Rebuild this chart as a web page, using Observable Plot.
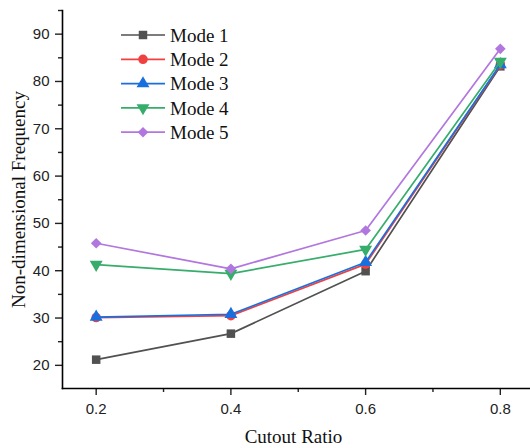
<!DOCTYPE html>
<html>
<head>
<meta charset="utf-8">
<script src="https://cdn.jsdelivr.net/npm/d3@7"></script>
<script src="https://cdn.jsdelivr.net/npm/@observablehq/plot@0.6"></script>
<style>
  html, body { margin: 0; padding: 0; background: #fff; }
  #wrap { position: relative; width: 530px; height: 448px; }
  #legend { position: absolute; left: 0; top: 0; pointer-events: none; }
</style>
</head>
<body>
<div id="wrap"></div>
<script>
// ---- data ----
const ratios = [0.2, 0.4, 0.6, 0.8];
const modeNames = ["Mode 1", "Mode 2", "Mode 3", "Mode 4", "Mode 5"];
const mode1 = [21.2, 26.7, 39.9, 83.2];
const mode2 = [30.1, 30.5, 41.4, 83.5];
const mode3 = [30.2, 30.8, 41.8, 83.6];
const mode4 = [41.3, 39.4, 44.5, 84.2];
const mode5 = [45.8, 40.4, 48.5, 86.9];
const xMinorTicks = [0.3, 0.5, 0.7];
const yMajorTicks = [20, 30, 40, 50, 60, 70, 80, 90];
const yMinorTicks = [25, 35, 45, 55, 65, 75, 85, 95];

// ---- styles ----
const colors = ["#515151", "#F14040", "#1A6FDF", "#37AD6B", "#B177DE"];
const sqrt3 = Math.sqrt(3);
const triangleDown = {
  draw(context, size) {
    const y = Math.sqrt(size / (sqrt3 * 3));
    context.moveTo(0, y * 2);
    context.lineTo(-sqrt3 * y, -y);
    context.lineTo(sqrt3 * y, -y);
    context.closePath();
  }
};
const symbols = [d3.symbolSquare, d3.symbolCircle, d3.symbolTriangle, triangleDown, d3.symbolDiamond2];

const series = [mode1, mode2, mode3, mode4, mode5].map((vals, i) =>
  ratios.map((r, j) => ({ mode: modeNames[i], ratio: r, value: vals[j] }))
);

const serif = "'Liberation Serif', 'Times New Roman', serif";

const marks = [
  Plot.axisX({ ticks: ratios, tickSize: 7, tickPadding: 8, tickFormat: d3.format(".1f"), label: null, strokeWidth: 1.4 }),
  Plot.axisX({ ticks: xMinorTicks, tickSize: 4, text: null, label: null, strokeWidth: 1.4 }),
  Plot.axisY({ ticks: yMajorTicks, tickSize: 7, tickPadding: 6, label: null, strokeWidth: 1.4 }),
  Plot.axisY({ ticks: yMinorTicks, tickSize: 4, text: null, label: null, strokeWidth: 1.4 }),
  Plot.frame({ anchor: "left", stroke: "#000", strokeWidth: 1.6 }),
  Plot.frame({ anchor: "bottom", stroke: "#000", strokeWidth: 1.6 }),
  Plot.text(["Cutout Ratio"], { frameAnchor: "bottom", dy: 48.5, dx: -3, textAnchor: "middle", lineAnchor: "middle", fontFamily: serif, fontSize: 19, fill: "#111" }),
  Plot.text(["Non-dimensional Frequency"], { frameAnchor: "left", rotate: -90, dx: -44, textAnchor: "middle", lineAnchor: "middle", fontFamily: serif, fontSize: 19, fill: "#111" })
];
series.forEach((rows, i) => {
  marks.push(Plot.line(rows, { x: "ratio", y: "value", stroke: colors[i], strokeWidth: 1.7 }));
  marks.push(Plot.dot(rows, { x: "ratio", y: "value", fill: colors[i], stroke: "none", symbol: symbols[i], r: 4.8 }));
});

const chart = Plot.plot({
  width: 530,
  height: 448,
  marginLeft: 62,
  marginRight: 0,
  marginTop: 10,
  marginBottom: 60,
  x: { domain: [0.15, 0.85], range: [62, 533.5] },
  y: { domain: [15, 95], range: [388.5, 10] },
  style: { fontFamily: "'Liberation Sans', Arial, sans-serif", fontSize: "15px", color: "#222", overflow: "hidden", background: "#fff" },
  marks
});
document.getElementById("wrap").appendChild(chart);

// ---- legend overlay ----
const leg = d3.select("#wrap").append("svg")
  .attr("id", "legend").attr("width", 530).attr("height", 448);
modeNames.forEach((name, i) => {
  const y = 35 + i * 24.3;
  const g = leg.append("g");
  g.append("line").attr("x1", 121).attr("x2", 165).attr("y1", y).attr("y2", y)
    .attr("stroke", colors[i]).attr("stroke-width", 1.7);
  g.append("path").attr("d", d3.symbol(symbols[i], 72)())
    .attr("transform", `translate(143,${y})`).attr("fill", colors[i]);
  g.append("text").attr("x", 170).attr("y", y).attr("dy", "0.35em")
    .attr("font-family", serif).attr("font-size", 19).attr("fill", "#111").text(name);
});
</script>
</body>
</html>
